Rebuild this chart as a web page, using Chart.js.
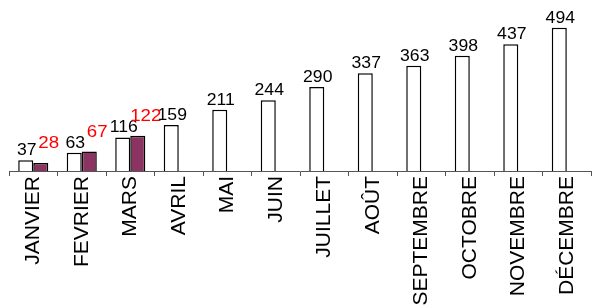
<!DOCTYPE html>
<html>
<head>
<meta charset="utf-8">
<script src="https://cdn.jsdelivr.net/npm/chart.js@4/dist/chart.umd.min.js"></script>
<style>
  html, body { margin: 0; padding: 0; background: #fff; }
  #wrap { width: 592px; height: 306px; }
</style>
</head>
<body>
<div id="wrap"><canvas id="chart"></canvas></div>
<script>
// months on the x axis
const months = ['JANVIER', 'FEVRIER', 'MARS', 'AVRIL', 'MAI', 'JUIN', 'JUILLET', 'AOÛT', 'SEPTEMBRE', 'OCTOBRE', 'NOVEMBRE', 'DÉCEMBRE'];
// white bars (black labels)
const serieA = [37, 63, 116, 159, 211, 244, 290, 337, 363, 398, 437, 494];
// purple bars (red labels), only the first three months
const serieB = [28, 67, 122, null, null, null, null, null, null, null, null, null];

// draws the value over each bar, a bit stretched sideways like the original
function stretchedText(ctx, txt, x, y, sx) {
  ctx.save();
  ctx.translate(x, y);
  ctx.scale(sx, 1);
  ctx.fillText(txt, 0, 0);
  ctx.restore();
}

const valueLabels = {
  id: 'valueLabels',
  afterDatasetsDraw(chart) {
    const ctx = chart.ctx;
    ctx.save();
    ctx.textAlign = 'center';
    ctx.textBaseline = 'alphabetic';
    chart.data.datasets.forEach((ds, i) => {
      const meta = chart.getDatasetMeta(i);
      meta.data.forEach((bar, j) => {
        const v = ds.data[j];
        if (v === null || v === undefined) return;
        if (i === 0) {
          ctx.font = '16px "Liberation Sans", Arial, sans-serif';
          ctx.fillStyle = '#000';
          stretchedText(ctx, String(v), bar.x + 1, bar.y - 5, 1.1);
        } else {
          ctx.font = '17px "Liberation Sans", Arial, sans-serif';
          ctx.fillStyle = '#ff0000';
          stretchedText(ctx, String(v), bar.x + 8, bar.y - 15, 1.1);
        }
      });
    });
    ctx.restore();
  },
};

const ctx = document.getElementById('chart').getContext('2d');
new Chart(ctx, {
  type: 'bar',
  data: {
    labels: months,
    datasets: [
      {
        data: serieA,
        backgroundColor: '#ffffff',
        borderColor: '#000000',
        borderWidth: 1.5,
      },
      {
        data: serieB,
        backgroundColor: '#8b3461',
        borderColor: '#000000',
        borderWidth: 1.5,
      },
    ],
  },
  options: {
    responsive: true,
    maintainAspectRatio: false,
    animation: false,
    categoryPercentage: 0.62,
    barPercentage: 1,
    layout: { padding: { left: 9, right: 0, top: 0, bottom: 0 } },
    plugins: {
      legend: { display: false },
      tooltip: { enabled: false },
    },
    scales: {
      y: {
        display: false,
        min: 0,
        max: 590,
      },
      x: {
        afterFit(scale) { scale.height = 135; },
        border: { display: true, color: '#555', width: 1 },
        grid: {
          offset: true,
          drawOnChartArea: false,
          drawTicks: true,
          tickLength: 5,
          color: '#555',
        },
        ticks: {
          minRotation: 90,
          maxRotation: 90,
          autoSkip: false,
          padding: 0,
          color: '#000',
          font: { family: '"Liberation Sans", Arial, sans-serif', size: 21 },
        },
      },
    },
  },
  plugins: [valueLabels],
});
</script>
</body>
</html>
